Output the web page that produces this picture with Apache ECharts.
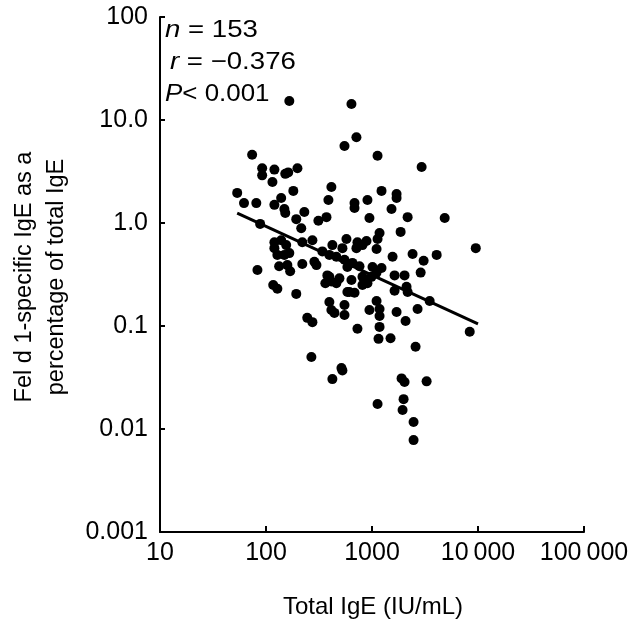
<!DOCTYPE html>
<html>
<head>
<meta charset="utf-8">
<script src="https://cdn.jsdelivr.net/npm/echarts@6/dist/echarts.min.js"></script>
<style>
html,body{margin:0;padding:0;background:#fff;}
#chart{width:639px;height:632px;}
</style>
</head>
<body>
<div id="chart"></div>
<script>
// Total IgE (IU/mL) for each subject
const totalIgE = [
  166, 74, 92, 92, 120, 152, 162, 198, 115, 181,
  53.5, 62, 81, 120, 139, 149, 152, 193, 230, 215,
  88, 312, 372, 120, 139, 155, 220, 274, 128, 149,
  166, 120, 133, 159, 220, 286, 299, 340, 83, 379,
  169, 640, 713, 550, 1128, 2938, 414, 388, 684, 684,
  906, 1230, 1706, 1706, 1528, 946, 2168, 4853, 1862, 1178,
  1128, 574, 729, 887, 423, 526, 713, 813, 1104, 1563,
  2415, 3069, 4074, 9528, 396, 461, 550, 586, 654, 762,
  1011, 1230, 1633, 2028, 2877, 396, 493, 813, 989, 1104,
  117, 128, 193, 245, 274, 363, 414, 461, 396, 414,
  442, 550, 550, 586, 268, 515, 526, 423, 640, 813,
  906, 1633, 2118, 2168, 3499, 612, 684, 1104, 946, 1178,
  1178, 1706, 2692, 2074, 729, 1178, 1152, 1496, 2576, 8356,
  1901, 2028, 3275, 1128, 1986, 1943, 2467, 2467
];
// Fel d 1-specific IgE as a percentage of total IgE
const felPercent = [
  15.3, 4.6, 3.4, 2.9, 3.3, 3.0, 3.1, 3.4, 2.5, 2.05,
  1.96, 1.56, 1.56, 1.5, 1.75, 1.37, 1.25, 1.09, 1.28, 0.89,
  0.98, 1.05, 1.14, 0.65, 0.68, 0.61, 0.65, 0.68, 0.49, 0.49,
  0.51, 0.57, 0.38, 0.39, 0.40, 0.42, 0.39, 0.53, 0.35, 0.31,
  0.34, 14.3, 6.8, 5.6, 4.5, 3.5, 2.24, 1.67, 1.56, 1.40,
  1.67, 2.05, 1.91, 1.75, 1.37, 1.12, 1.14, 1.12, 0.82, 0.80,
  0.70, 0.70, 0.65, 0.67, 0.61, 0.57, 0.57, 0.61, 0.56, 0.47,
  0.50, 0.43, 0.49, 0.57, 0.49, 0.47, 0.44, 0.374, 0.41, 0.38,
  0.374, 0.366, 0.31, 0.31, 0.33, 0.30, 0.29, 0.30, 0.30, 0.33,
  0.25, 0.23, 0.205, 0.12, 0.109, 0.26, 0.27, 0.26, 0.171, 0.143,
  0.134, 0.16, 0.128, 0.214, 0.050, 0.039, 0.037, 0.0305, 0.28, 0.25,
  0.26, 0.22, 0.24, 0.214, 0.175, 0.214, 0.21, 0.175, 0.143, 0.146,
  0.125, 0.137, 0.146, 0.112, 0.094, 0.098, 0.075, 0.076, 0.063, 0.088,
  0.031, 0.0286, 0.029, 0.0175, 0.0195, 0.0153, 0.0117, 0.0078
];
// Regression line end points
const fitX = [53.5, 10000];
const fitY = [1.25, 0.105];

const xTickLabels = ['10', '100', '1000', '10\u2009000', '100\u2009000'];
const yTickLabels = ['0.001', '0.01', '0.1', '1.0', '10.0', '100'];
const xTitle = 'Total IgE (IU/mL)';
const yTitleLines = ['Fel d 1-specific IgE as a', 'percentage of total IgE'];

const points = totalIgE.map((x, i) => [x, felPercent[i]]);
const fitLine = fitX.map((x, i) => [x, fitY[i]]);

const FONT = 'Liberation Sans';
const chart = echarts.init(document.getElementById('chart'), null, {renderer: 'canvas'});

function statText(x, y, sym, rest, sx) {
  return {
    type: 'text', x: x, y: y, scaleX: sx,
    style: {
      text: '{i|' + sym + '}' + rest, fontFamily: FONT, fontSize: 24, fill: '#000', verticalAlign: 'middle',
      rich: {i: {fontStyle: 'italic', fontFamily: FONT, fontSize: 24}}
    }
  };
}

chart.setOption({
  animation: false,
  backgroundColor: '#fff',
  grid: {left: 160, right: 55, top: 17, bottom: 100, containLabel: false},
  xAxis: {
    type: 'log', logBase: 10, min: 10, max: 100000,
    axisLine: {show: true, onZero: false, lineStyle: {color: '#000', width: 2}},
    axisTick: {show: true, inside: true, length: 6, lineStyle: {color: '#000', width: 2}},
    splitLine: {show: false},
    minorTick: {show: false},
    axisLabel: {
      margin: 9, color: '#000', fontFamily: FONT, fontSize: 25,
      formatter: (v, i) => xTickLabels[i]
    }
  },
  yAxis: {
    type: 'log', logBase: 10, min: 0.001, max: 100,
    axisLine: {show: true, onZero: false, lineStyle: {color: '#000', width: 2}},
    axisTick: {show: true, inside: true, length: 5, lineStyle: {color: '#000', width: 2}},
    splitLine: {show: false},
    axisLabel: {
      margin: 12, color: '#000', fontFamily: FONT, fontSize: 25,
      formatter: (v, i) => yTickLabels[i]
    }
  },
  graphic: [
    {
      type: 'text', x: 373, y: 607,
      style: {text: xTitle, fontFamily: FONT, fontSize: 24, fill: '#000', align: 'center', verticalAlign: 'middle'}
    },
    {
      type: 'text', x: 41, y: 277, rotation: Math.PI / 2,
      style: {text: yTitleLines.join('\n'), fontFamily: FONT, fontSize: 23.5, lineHeight: 32, fill: '#000', align: 'center', verticalAlign: 'middle'}
    },
    statText(165, 30, 'n', ' = 153', 1.15),
    statText(170, 62, 'r', ' = \u22120.376', 1.15),
    statText(165, 94, 'P', '< 0.001', 1.08)
  ],
  series: [
    {
      type: 'scatter', data: points, symbol: 'circle', symbolSize: 10,
      itemStyle: {color: '#000', opacity: 1}
    },
    {
      type: 'line', data: fitLine, showSymbol: false, symbol: 'none',
      lineStyle: {color: '#000', width: 3}
    }
  ]
});
</script>
</body>
</html>
